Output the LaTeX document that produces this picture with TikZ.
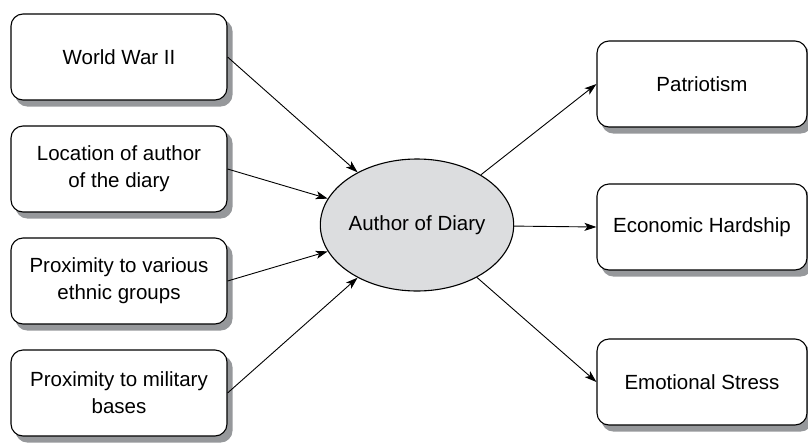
\documentclass[tikz,border=0pt]{standalone}
\usepackage{fontspec}
\setmainfont{Liberation Sans}
\usepackage{tikz}
\usetikzlibrary{arrows.meta, shapes.geometric, backgrounds}
\definecolor{hubfill}{RGB}{220,221,223}
\definecolor{shadowgray}{RGB}{150,152,155}

\begin{document}
\begin{tikzpicture}[>={Stealth[length=12pt, width=8pt, inset=3pt]}, x=1pt, y=-1pt,
    box/.style={rectangle, rounded corners=12pt, draw=black, line width=1.1pt, fill=white,
        minimum height=86pt, align=center,
        font=\fontsize{20.5}{27}\selectfont},
    boxshadow/.style={fill=shadowgray, rounded corners=12pt},
    hub/.style={ellipse, draw=black, line width=1.1pt, fill=hubfill, inner sep=0pt,
        minimum width=187pt, minimum height=132pt, font=\fontsize{20.5}{27}\selectfont},
    link/.style={->, line width=0.9pt}]
    \useasboundingbox (0,0) rectangle (808,445);
    % causes
    \node (W) [box, minimum width=216pt] at (119,57) {World War II};
    \node (L) [box, minimum width=216pt] at (119,169) {Location of author\\of the diary};
    \node (E) [box, minimum width=216pt] at (119,281) {Proximity to various\\ethnic groups};
    \node (M) [box, minimum width=216pt] at (119,393) {Proximity to military\\bases};
    % author
    \node (A) [hub] at (417,225) {Author of Diary};
    % effects
    \node (P) [box, minimum width=210pt] at (702,84) {Patriotism};
    \node (H) [box, minimum width=210pt] at (702,227) {Economic Hardship};
    \node (S) [box, minimum width=210pt] at (702,382) {Emotional Stress};
    % shadows behind the boxes
    \begin{scope}[on background layer]
        \foreach \n in {W,L,E,M,P,H,S}
            \fill [boxshadow] ([xshift=5pt, yshift=-6pt]\n.south west) rectangle ([xshift=5pt, yshift=-6pt]\n.north east);
    \end{scope}
    \draw [link] (W.east) -- (A);
    \draw [link] (L.east) -- (A);
    \draw [link] (E.east) -- (A);
    \draw [link] (M.east) -- (A);
    \draw [link] (A) -- (P.west);
    \draw [link] (A) -- (H.west);
    \draw [link] (A) -- (S.west);
\end{tikzpicture}
\end{document}
